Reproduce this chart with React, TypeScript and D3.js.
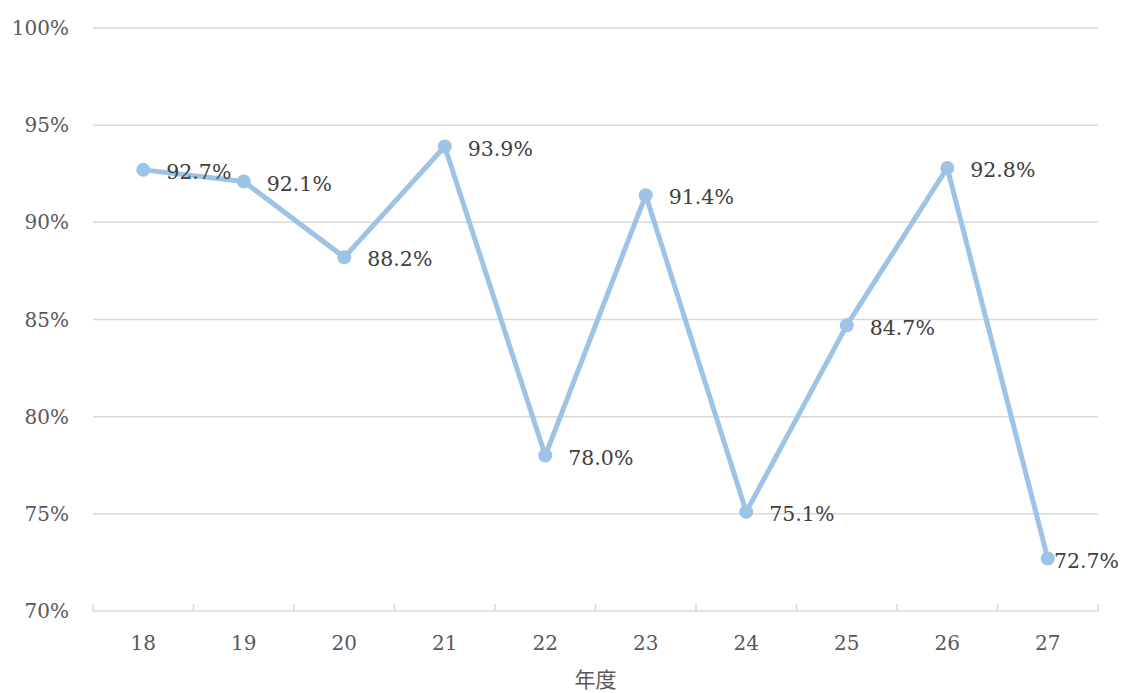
import React from "react";
import * as d3 from "d3";

// Fiscal years (last two digits) and the yearly rate
const years: string[] = ["18", "19", "20", "21", "22", "23", "24", "25", "26", "27"];
const rates: number[] = [0.927, 0.921, 0.882, 0.939, 0.78, 0.914, 0.751, 0.847, 0.928, 0.727];
const yTicks: number[] = [0.7, 0.75, 0.8, 0.85, 0.9, 0.95, 1.0];
const xTitle = "年度";

const W = 1122;
const H = 693;
const M = { left: 93, right: 24, top: 28, bottom: 82 };

const SERIF = "'DejaVu Serif', serif";
const CJK = "'Noto Sans CJK JP', 'Noto Sans CJK SC', sans-serif";

export default function App() {
  const x = d3
    .scaleBand<string>()
    .domain(years)
    .range([M.left, W - M.right]);
  const y = d3
    .scaleLinear()
    .domain([0.7, 1.0])
    .range([H - M.bottom, M.top]);

  const cx = (d: string) => (x(d) ?? 0) + x.bandwidth() / 2;
  const pts: [number, number][] = years.map((d, i) => [cx(d), y(rates[i])]);
  const line = d3.line<[number, number]>()(pts) ?? "";

  const pct = d3.format(".0%");
  const pct1 = d3.format(".1%");
  const y0 = H - M.bottom;

  // boundaries between categories carry the small tick marks
  const bounds = years.map((d) => x(d) ?? 0).concat([W - M.right]);

  return (
    <svg
      width={W}
      height={H}
      style={{ position: "absolute", left: 0, top: 0, background: "#fff" }}
    >
      {yTicks.slice(1).map((t) => (
        <line
          key={"g" + t}
          x1={M.left}
          x2={W - M.right}
          y1={y(t)}
          y2={y(t)}
          stroke="#d9d9d9"
          strokeWidth={1.5}
        />
      ))}
      <line x1={M.left} x2={W - M.right} y1={y0} y2={y0} stroke="#d9d9d9" strokeWidth={1.5} />
      {bounds.map((b, i) => (
        <line key={"t" + i} x1={b} x2={b} y1={y0 - 7} y2={y0} stroke="#d9d9d9" strokeWidth={1.5} />
      ))}
      {yTicks.map((t) => (
        <text
          key={"yl" + t}
          x={69}
          y={y(t)}
          dy="0.35em"
          textAnchor="end"
          style={{ fontFamily: SERIF, fontSize: 20 }}
          fill="#595959"
        >
          {pct(t)}
        </text>
      ))}
      {years.map((d) => (
        <text
          key={"xl" + d}
          x={cx(d)}
          y={643}
          dy="0.35em"
          textAnchor="middle"
          style={{ fontFamily: SERIF, fontSize: 20 }}
          fill="#595959"
        >
          {d}
        </text>
      ))}
      <text
        x={(M.left + W - M.right) / 2}
        y={680}
        dy="0.35em"
        textAnchor="middle"
        style={{ fontFamily: CJK, fontSize: 21 }}
        fill="#595959"
      >
        {xTitle}
      </text>
      <path d={line} fill="none" stroke="#9dc3e6" strokeWidth={5} strokeLinejoin="round" />
      {pts.map(([px, py], i) => (
        <circle key={"c" + i} cx={px} cy={py} r={7} fill="#9dc3e6" />
      ))}
      {pts.map(([px, py], i) => {
        const startX = px + 23;
        const overflow = startX + 66 > W - 3;
        return (
          <text
            key={"dl" + i}
            x={overflow ? W - 3 : startX}
            y={py + 2}
            dy="0.35em"
            textAnchor={overflow ? "end" : "start"}
            style={{ fontFamily: SERIF, fontSize: 20.5 }}
            fill="#404040"
          >
            {pct1(rates[i])}
          </text>
        );
      })}
    </svg>
  );
}
